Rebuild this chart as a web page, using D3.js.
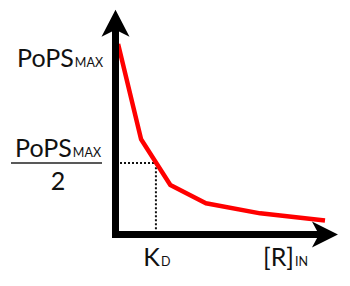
<!DOCTYPE html>
<html>
<head>
<meta charset="utf-8">
<script src="https://cdn.jsdelivr.net/npm/d3@7"></script>
<style>
  body { margin: 0; background: #fff; }
  svg { display: block; font-family: Lato, "Open Sans", sans-serif; }
</style>
</head>
<body>
<svg id="chart" width="350" height="286"></svg>
<script>
// binding curve (fraction of axis range)
const ligand = [0.01, 0.12, 0.26, 0.43, 0.69, 1.0];
const pops = [1.0, 0.5, 0.26, 0.164, 0.111, 0.074];
const kd = 0.191;
const halfLevel = 0.375;
const axisMax = { x: 1.062, y: 1.18 };

const width = 350, height = 286;
const svg = d3.select("#chart");

const x = d3.scaleLinear().domain([0, 1]).range([116, 325]);
const y = d3.scaleLinear().domain([0, 1]).range([234.5, 44]);

// dotted guides to K_D
svg.append("path")
  .attr("d", `M${x(0)},${y(halfLevel)}H${x(kd)}V${y(0)}`)
  .attr("fill", "none")
  .attr("stroke", "#111")
  .attr("stroke-width", 2)
  .attr("stroke-dasharray", "2,2");

// curve
const line = d3.line().x(d => x(d[0])).y(d => y(d[1]));
svg.append("path")
  .datum(d3.zip(ligand, pops))
  .attr("d", line)
  .attr("fill", "none")
  .attr("stroke", "#ff0000")
  .attr("stroke-width", 4.5)
  .attr("stroke-linejoin", "round");

// axes with arrowheads
const x0 = x(0) - 0.5, y0 = y(0);
svg.append("path")
  .attr("d", `M${x0},${y0 + 3.5}V${y(axisMax.y) + 18}M${x0 - 3.5},${y0}H${x(axisMax.x) - 18}`)
  .attr("stroke", "#000")
  .attr("stroke-width", 7)
  .attr("fill", "none");

const ty = y(axisMax.y);
svg.append("path")
  .attr("d", `M${x0},${ty}L${x0 + 14},${ty + 27}L${x0},${ty + 20}L${x0 - 14},${ty + 27}Z`)
  .attr("fill", "#000");

const tx = x(axisMax.x);
svg.append("path")
  .attr("d", `M${tx},${y0}L${tx - 26},${y0 + 13}L${tx - 19},${y0}L${tx - 26},${y0 - 13}Z`)
  .attr("fill", "#000");

// labels
const big = 25, small = 12.5;

function subLabel(g, main, sub, px, py, anchor) {
  const t = g.append("text")
    .attr("x", px).attr("y", py)
    .attr("text-anchor", anchor)
    .attr("fill", "#111")
    .style("font-size", big + "px");
  t.append("tspan").text(main);
  t.append("tspan").text(sub).style("font-size", small + "px").attr("dx", 1);
  return t;
}

subLabel(svg, "PoPS", "MAX", 103, 67, "end");

// fraction label
subLabel(svg, "PoPS", "MAX", 101, 157, "end");
svg.append("line")
  .attr("x1", 11).attr("x2", 102)
  .attr("y1", y(halfLevel)).attr("y2", y(halfLevel))
  .attr("stroke", "#222").attr("stroke-width", 1.5);
svg.append("text")
  .attr("x", 58).attr("y", 190)
  .attr("text-anchor", "middle")
  .attr("fill", "#111")
  .style("font-size", big + "px")
  .text("2");

subLabel(svg, "K", "D", x(kd) + 1, 266, "middle");
subLabel(svg, "[R]", "IN", 308, 266, "end");
</script>
</body>
</html>
